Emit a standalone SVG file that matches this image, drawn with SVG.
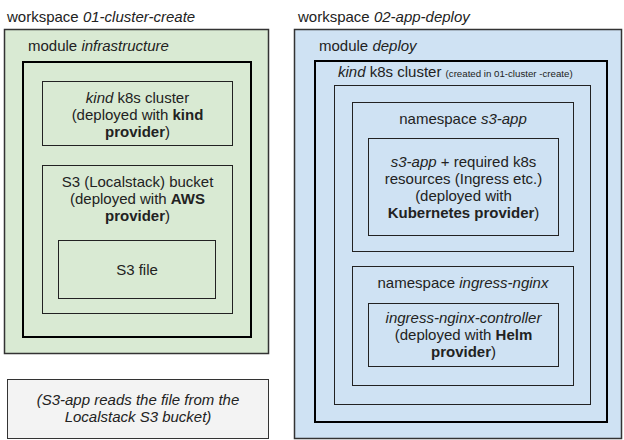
<svg xmlns="http://www.w3.org/2000/svg" width="624" height="440" viewBox="0 0 624 440">
<style>
text{font-family:"Liberation Sans",Arial,sans-serif;font-size:15px;fill:#222}
.c{text-anchor:middle}
.i{font-style:italic}
.b{font-weight:bold}
.g{fill:#d9ead3}
.bl{fill:#cfe2f3}
.ws{stroke:#333;stroke-width:1.5}
.mod{stroke:#000;stroke-width:2;fill:none}
.box{stroke:#222;stroke-width:1;fill:none}
.note{font-style:italic;font-size:15px}
</style>
<rect width="624" height="440" fill="#fff"/>
<g id="ws1">
<text x="7" y="22">workspace <tspan class="i">01-cluster-create</tspan></text>
<rect class="g ws" x="4.5" y="29.5" width="264" height="324"/>
<text x="28" y="51">module <tspan class="i">infrastructure</tspan></text>
</g>
<g id="mod-infra"><rect class="mod" x="23" y="62" width="228" height="275"/></g>
<g id="kind-cluster">
<rect class="box" x="42.5" y="81.5" width="190" height="64"/>
<text class="c" x="137.5" y="103"><tspan class="i">kind</tspan> k8s cluster</text>
<text class="c" x="137.5" y="120">(deployed with <tspan class="b">kind</tspan></text>
<text class="c" x="137.5" y="137"><tspan class="b">provider</tspan>)</text>
</g>
<g id="s3-bucket">
<rect class="box" x="42.5" y="165.5" width="190" height="148"/>
<text class="c" x="137.5" y="187">S3 (Localstack) bucket</text>
<text class="c" x="137.5" y="204">(deployed with <tspan class="b">AWS</tspan></text>
<text class="c" x="137.5" y="221"><tspan class="b">provider</tspan>)</text>
</g>
<g id="s3-file">
<rect class="box" x="58.5" y="240.5" width="157" height="58"/>
<text class="c" x="137" y="275">S3 file</text>
</g>
<g id="note">
<rect x="7.5" y="379.5" width="261" height="59" fill="#f3f3f3" stroke="#333"/>
<text class="c note" x="138" y="405">(S3-app reads the file from the</text>
<text class="c note" x="138" y="422">Localstack S3 bucket)</text>
</g>
<g id="ws2">
<text x="298" y="22">workspace <tspan class="i">02-app-deploy</tspan></text>
<rect class="bl ws" x="294.5" y="29.5" width="327" height="409"/>
<text x="319" y="51">module <tspan class="i">deploy</tspan></text>
</g>
<g id="mod-deploy"><rect class="mod" x="315" y="61" width="292" height="361"/></g>
<g id="cluster2">
<text x="338" y="77"><tspan class="i">kind</tspan> k8s cluster <tspan font-size="9.7">(created in 01-cluster -create)</tspan></text>
<rect class="box" x="334.5" y="85.5" width="256" height="319"/>
</g>
<g id="ns-s3">
<rect class="box" x="352.5" y="102.5" width="221" height="149"/>
<text class="c" x="463" y="124">namespace <tspan class="i">s3-app</tspan></text>
</g>
<g id="s3-app">
<rect class="box" x="368.5" y="138.5" width="190" height="97"/>
<text class="c" x="463.5" y="167"><tspan class="i">s3-app</tspan> + required k8s</text>
<text class="c" x="463.5" y="184">resources (Ingress etc.)</text>
<text class="c" x="463.5" y="201">(deployed with</text>
<text class="c" x="463.5" y="218"><tspan class="b">Kubernetes provider</tspan>)</text>
</g>
<g id="ns-ingress">
<rect class="box" x="352.5" y="266.5" width="221" height="119"/>
<text class="c" x="463" y="288">namespace <tspan class="i">ingress-nginx</tspan></text>
</g>
<g id="ingress-ctrl">
<rect class="box" x="368.5" y="303.5" width="190" height="63"/>
<text class="c" x="463.5" y="323"><tspan class="i">ingress-nginx-controller</tspan></text>
<text class="c" x="463.5" y="340">(deployed with <tspan class="b">Helm</tspan></text>
<text class="c" x="463.5" y="357"><tspan class="b">provider</tspan>)</text>
</g>
<g id="connectors"></g>
</svg>
